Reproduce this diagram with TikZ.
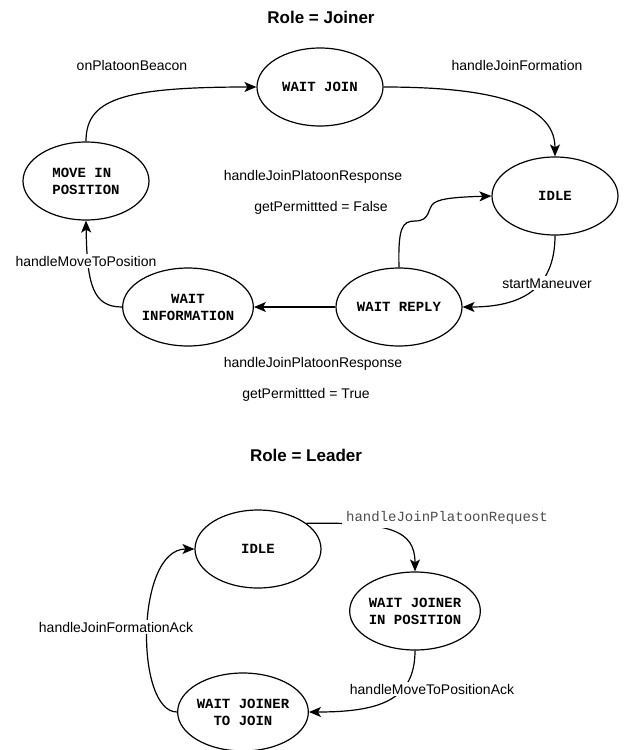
\documentclass[tikz,border=0pt]{standalone}
\usepackage{fontspec}
\setmainfont{Liberation Sans}
\setmonofont{Liberation Mono}
\usetikzlibrary{shapes.geometric,arrows.meta}
\definecolor{reqgray}{HTML}{4D4D4D}

\tikzset{
  stateell/.style={ellipse, draw, fill=white, line width=1.2pt, minimum width=126pt, minimum height=78pt,
    inner sep=0pt, align=center, font=\ttfamily\bfseries\fontsize{14}{17}\selectfont},
  transarrow/.style={line width=1.2pt, -{Stealth[length=12pt,width=10pt,inset=3pt]}},
  edgelbl/.style={anchor=base, inner sep=2pt, font=\fontsize{14}{17}\selectfont},
  coverlbl/.style={edgelbl, fill=white},
  roletitle/.style={anchor=base, font=\bfseries\fontsize{17}{20}\selectfont},
}

\begin{document}
\begin{tikzpicture}[x=1pt, y=-1pt]
  % Background
  \fill[white] (0, 0) rectangle (624, 750);
  \useasboundingbox (0, 0) rectangle (624, 750);

  % Joiner
  \node[roletitle] (jtitle) at (321, 23) {Role = Joiner};

  \node[stateell] (wj) at (320, 87) {WAIT JOIN};
  \node[stateell, align=left] (mip) at (86, 181) {MOVE IN\\POSITION};
  \node[stateell] (jidle) at (555, 196) {IDLE};
  \node[stateell] (wr) at (399, 307) {WAIT REPLY};
  \node[stateell] (wi) at (188, 307) {WAIT\\INFORMATION};

  \draw[transarrow] (mip.north) .. controls (86, 100) and (120, 87) .. (wj.west);
  \draw[transarrow] (wj.east) .. controls (480, 87) and (555, 100) .. (jidle.north);
  \draw[transarrow] (jidle.south) .. controls (555, 290) and (520, 307) .. (wr.east);
  \draw[transarrow] (wr.north) .. controls (398, 228) and (402, 221) .. (415, 221)
    .. controls (431, 221) and (427, 208) .. (434, 203)
    .. controls (441, 198) and (460, 197) .. (jidle.west);
  \draw[transarrow] (wr.west) -- (wi.east);
  \draw[transarrow] (wi.west) .. controls (93, 307) and (87, 285) .. (mip.south);

  \node[edgelbl] (beacon) at (132, 70) {onPlatoonBeacon};
  \node[edgelbl] (joinform) at (517, 70) {handleJoinFormation};
  \node[edgelbl] (respfalse) at (313, 180) {handleJoinPlatoonResponse};
  \node[edgelbl] (permfalse) at (321, 211) {getPermittted = False};
  \node[coverlbl] (movepos) at (86, 266) {handleMoveToPosition};
  \node[coverlbl] (startman) at (547, 288) {startManeuver};
  \node[edgelbl] (resptrue) at (313, 367) {handleJoinPlatoonResponse};
  \node[edgelbl] (permtrue) at (306, 398) {getPermittted = True};

  % Leader
  \node[roletitle] (ltitle) at (306, 461) {Role = Leader};

  \node[stateell] (lidle) at (258, 549) {IDLE};
  \node[stateell] (wjip) at (415, 611) {WAIT JOINER\\IN POSITION};
  \node[stateell] (wjtj) at (243, 712) {WAIT JOINER\\TO JOIN};

  \draw[transarrow] (lidle.28) .. controls (390, 522) and (415, 530) .. (wjip.north);
  \draw[transarrow] (wjip.south) .. controls (415, 700) and (380, 712) .. (wjtj.east);
  \draw[transarrow] (wjtj.west) .. controls (135, 712) and (135, 549) .. (lidle.west);

  \node[coverlbl, font=\ttfamily\fontsize{14}{17}\selectfont, text=reqgray, inner sep=4pt] (joinreq)
    at (447, 521) {handleJoinPlatoonRequest};
  \node[coverlbl] (formack) at (116, 632) {handleJoinFormationAck};
  \node[coverlbl] (moveack) at (432, 694) {handleMoveToPositionAck};

\end{tikzpicture}
\end{document}
